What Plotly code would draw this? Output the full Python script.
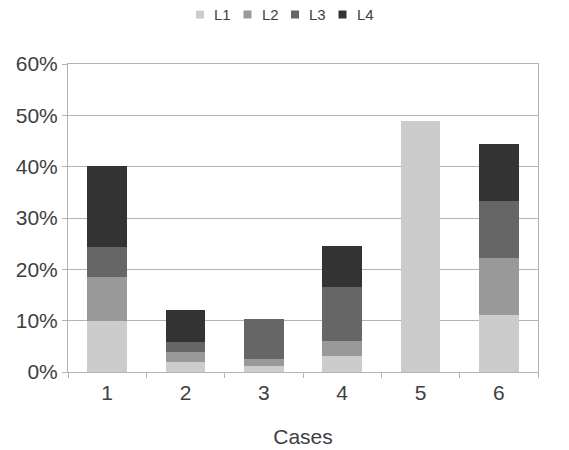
import plotly.graph_objects as go

# Stacked share per case, in percent
cases = ["1", "2", "3", "4", "5", "6"]
l1 = [10.0, 1.9, 1.1, 3.1, 48.9, 11.1]
l2 = [8.5, 1.95, 1.4, 2.9, 0.0, 11.1]
l3 = [5.8, 1.95, 7.8, 10.5, 0.0, 11.1]
l4 = [15.8, 6.2, 0.0, 8.0, 0.0, 11.1]

series = [("L1", l1, "#cccccc"), ("L2", l2, "#999999"),
          ("L3", l3, "#666666"), ("L4", l4, "#333333")]

fig = go.Figure()
for name, vals, color in series:
    fig.add_trace(go.Bar(
        x=cases, y=[v / 100 for v in vals], name=name,
        marker=dict(color=color, line=dict(width=0)),
        showlegend=False,
    ))

W, H = 569, 450
ML, MR, MT, MB = 68, 31, 64, 78
PW, PH = W - ML - MR, H - MT - MB
font = "Liberation Sans, Arial, sans-serif"


def px_x(p):
    return (p - ML) / PW


def px_y(p):
    return 1 - (p - MT) / PH


# Compact key along the top: small square swatch, then the series name
key_left, key_step, key_mid = 196, 47.5, 14.5
for i, (name, _, color) in enumerate(series):
    x0 = key_left + i * key_step
    fig.add_shape(
        type="rect", xref="paper", yref="paper",
        x0=px_x(x0), x1=px_x(x0 + 8),
        y0=px_y(key_mid + 4), y1=px_y(key_mid - 4),
        fillcolor=color, line=dict(width=0),
    )
    fig.add_annotation(
        text=name, showarrow=False, xref="paper", yref="paper",
        x=px_x(x0 + 16), xanchor="left",
        y=px_y(key_mid), yanchor="middle",
        font=dict(size=15, color="#404040", family=font),
    )

fig.update_layout(
    barmode="stack",
    bargap=0.49,
    width=W, height=H,
    margin=dict(l=ML, r=MR, t=MT, b=MB),
    paper_bgcolor="white", plot_bgcolor="white",
    font=dict(family=font, color="#404040", size=21),
    xaxis=dict(
        title=dict(text="Cases", font=dict(size=21), standoff=26),
        automargin=False,
        showline=True, linecolor="#b3b3b3", linewidth=1,
        mirror=True,
        ticks="outside", tickson="boundaries", ticklen=5, tickcolor="#b3b3b3",
        ticklabelstandoff=2,
        showgrid=False,
    ),
    yaxis=dict(
        range=[0, 0.6], dtick=0.1, tickformat=".0%",
        automargin=False,
        showline=True, linecolor="#b3b3b3", linewidth=1, mirror=True,
        ticks="outside", ticklen=5, tickcolor="#b3b3b3",
        gridcolor="#b3b3b3", gridwidth=1, zeroline=False,
    ),
)

fig.write_html("out.html")
